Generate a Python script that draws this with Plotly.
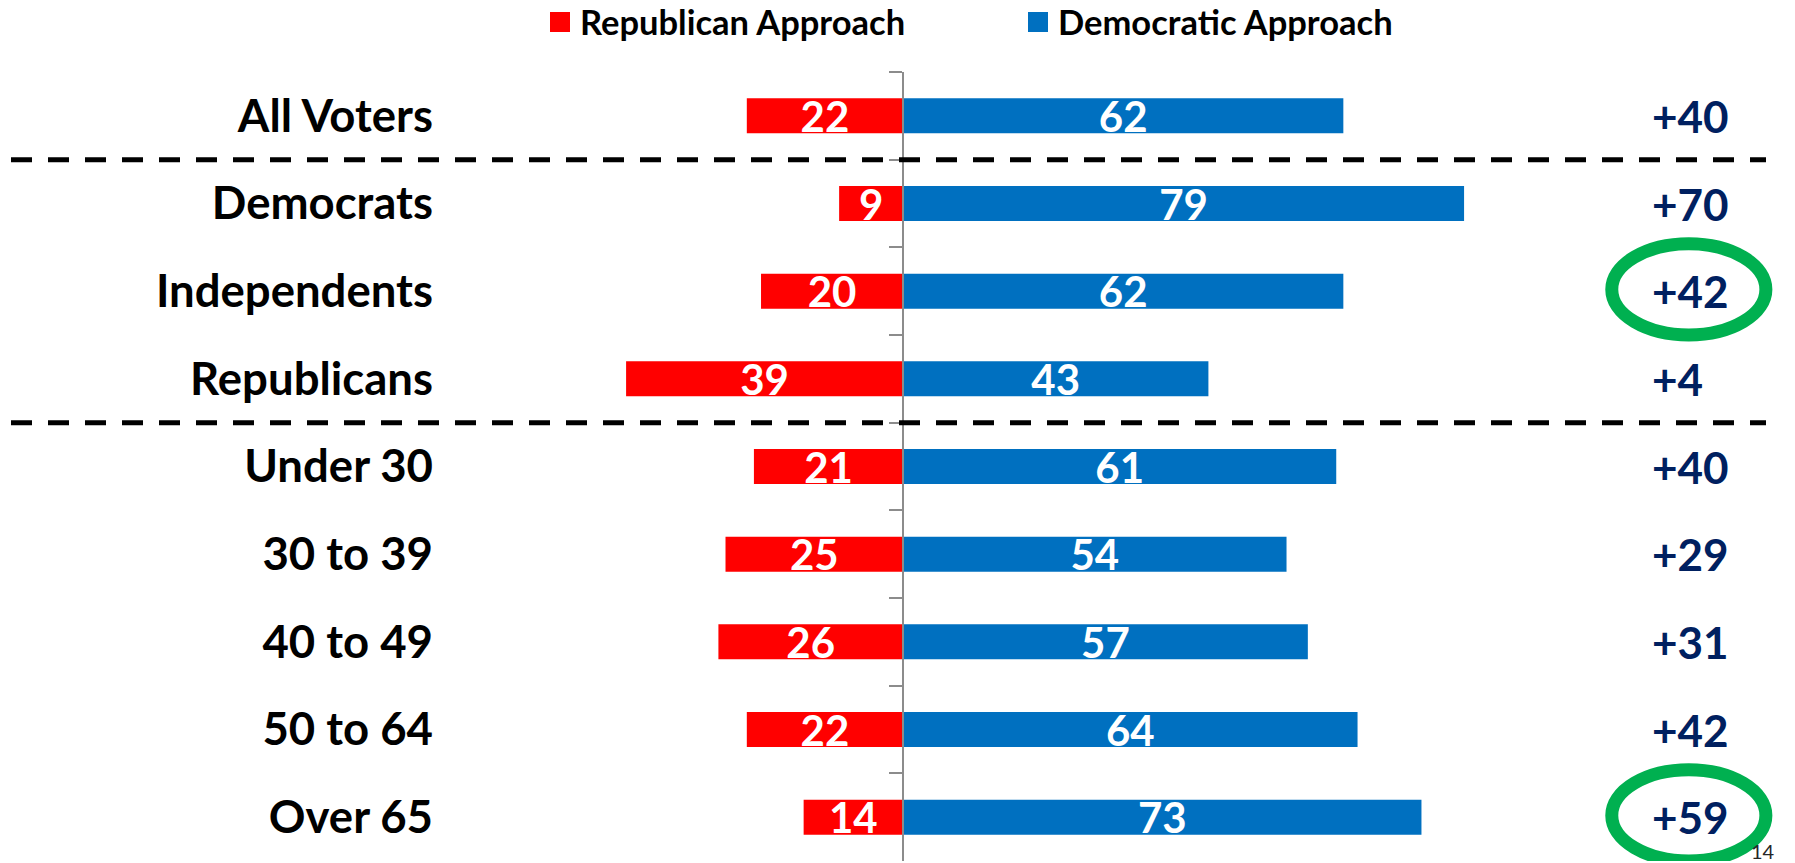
import plotly.graph_objects as go

# ---- data ----
categories = ["All Voters", "Democrats", "Independents", "Republicans",
              "Under 30", "30 to 39", "40 to 49", "50 to 64", "Over 65"]
republican = [22, 9, 20, 39, 21, 25, 26, 22, 14]
democratic = [62, 79, 62, 43, 61, 54, 57, 64, 73]
net_labels = ["+40", "+70", "+42", "+4", "+40", "+29", "+31", "+42", "+59"]
highlighted = ["Independents", "Over 65"]
separators_after = ["All Voters", "Republicans"]
series_names = ["Republican Approach", "Democratic Approach"]
page_number = "14"

# ---- styles ----
RED = "#FF0000"
BLUE = "#0070C0"
NAVY = "#002060"
GREEN = "#00B050"
AXIS_GRAY = "#8C8C8C"
FONT = "Lato"

W, H = 1795, 863
ML, MR, MT, MB = 445, 0, 72, 2
PW, PH = W - ML - MR, H - MT - MB
X_MIN, X_MAX = -64.5, 125.6
zero_pos = (0 - X_MIN) / (X_MAX - X_MIN)

fig = go.Figure()

for vals, sign, col in [(republican, -1, RED), (democratic, 1, BLUE)]:
    fig.add_trace(go.Bar(
        y=categories, x=[sign * v for v in vals], orientation="h",
        text=[str(v) for v in vals], textposition="inside", textangle=0,
        insidetextanchor="middle", constraintext="none",
        textfont=dict(family=FONT, size=42, color="white", weight="bold"),
        marker=dict(color=col, line=dict(width=0)), width=0.4,
        showlegend=False, hoverinfo="skip",
    ))

# legend proxies
for name, col in zip(series_names, [RED, BLUE]):
    fig.add_trace(go.Scatter(
        x=[None], y=[None], mode="markers", name=name,
        marker=dict(symbol="square", size=16, color=col,
                    line=dict(color=col, width=4)),
        hoverinfo="skip",
    ))

# invisible trace for the central category axis
fig.add_trace(go.Scatter(
    x=[0] * len(categories), y=categories, yaxis="y2", mode="markers",
    marker=dict(opacity=0), showlegend=False, hoverinfo="skip",
))

annotations = []
for cat, lab in zip(categories, net_labels):
    annotations.append(dict(
        x=105.2, y=cat, xref="x", yref="y", text=lab, showarrow=False,
        xanchor="left", yanchor="middle",
        font=dict(family=FONT, size=44, color=NAVY, weight="bold"),
    ))
annotations.append(dict(
    x=(1763 - ML) / PW, y=(H - MB - 851) / PH, xref="paper", yref="paper",
    text=page_number, showarrow=False, xanchor="center", yanchor="middle",
    font=dict(family=FONT, size=20, color="#262626"),
))

shapes = []
for cat in separators_after:
    i = categories.index(cat)
    shapes.append(dict(
        type="line", xref="paper", yref="y",
        x0=(11 - ML) / PW, x1=(1766 - ML) / PW,
        y0=i + 0.5, y1=i + 0.5,
        line=dict(color="black", width=5, dash="21px,16px"),
    ))
for cat in highlighted:
    i = categories.index(cat)
    shapes.append(dict(
        type="circle", xref="x", yref="y",
        x0=99.8, x1=121.5, y0=i - 0.54, y1=i + 0.50,
        line=dict(color=GREEN, width=13), fillcolor="rgba(0,0,0,0)",
    ))

fig.update_layout(
    width=W, height=H,
    margin=dict(l=ML, r=MR, t=MT, b=MB, pad=0, autoexpand=False),
    paper_bgcolor="white", plot_bgcolor="white",
    barmode="overlay",
    font=dict(family=FONT, color="black"),
    xaxis=dict(range=[X_MIN, X_MAX], visible=False, showgrid=False,
               zeroline=False, fixedrange=True),
    yaxis=dict(type="category", categoryarray=categories, categoryorder="array",
               range=[len(categories) - 0.5, -0.5], showgrid=False,
               zeroline=False, showline=False, ticks="",
               ticklabelstandoff=11,
               tickfont=dict(family=FONT, size=45.5, color="black", weight="bold")),
    yaxis2=dict(type="category", categoryarray=categories, categoryorder="array",
                range=[len(categories) - 0.5, -0.5], overlaying="y",
                anchor="free", position=zero_pos, side="left",
                showgrid=False, zeroline=False, showticklabels=False,
                showline=True, linecolor=AXIS_GRAY, linewidth=2,
                ticks="outside", tickson="boundaries", ticklen=13,
                tickwidth=2, tickcolor=AXIS_GRAY),
    legend=dict(orientation="h", xref="paper", yref="paper",
                x=(540 - ML) / PW, xanchor="left",
                y=1 + (MT - 22) / PH, yanchor="middle",
                font=dict(family=FONT, size=34.5, color="black", weight="bold"),
                entrywidth=433, bgcolor="rgba(0,0,0,0)"),
    annotations=annotations,
    shapes=shapes,
    showlegend=True,
)

fig.write_html("out.html", config={"displayModeBar": False},
               post_script="document.body.style.margin='0';document.body.style.overflow='hidden';")
